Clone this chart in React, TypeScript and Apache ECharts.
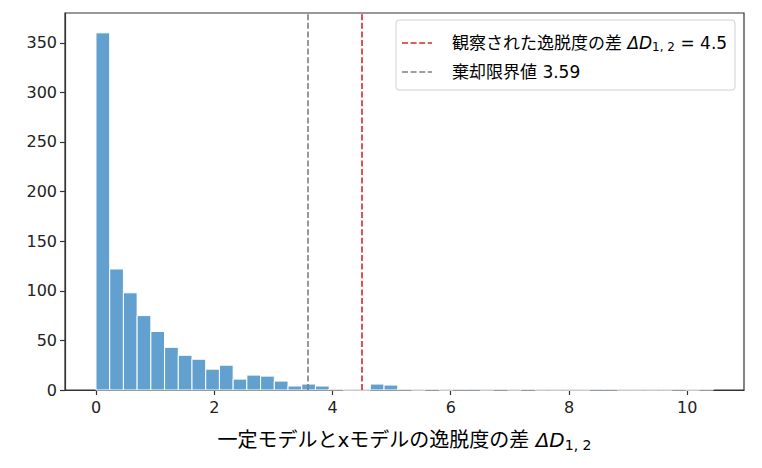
import React, { useEffect, useRef } from "react";
import * as echarts from "echarts";

const binStart = 0;
const binWidth = 0.232;
const counts = [
  360, 122, 98, 75, 59, 43, 35, 31, 21, 25, 11, 15, 14, 9, 4, 6, 4, 1, 0, 0, 6, 5,
  1, 0, 1, 0, 1, 1, 0, 1, 0, 1, 0, 0, 0, 0, 1, 1, 0, 0, 0, 0, 1, 0, 1,
];
const xTicks = [0, 2, 4, 6, 8, 10];
const yTicks = [0, 50, 100, 150, 200, 250, 300, 350];
const observedDiff = 4.5;
const criticalValue = 3.59;

const NUM_FONT = "DejaVu Sans, Noto Sans CJK JP, sans-serif";

export default function App() {
  const ref = useRef<HTMLDivElement>(null);
  useEffect(() => {
    if (!ref.current) return;
    const chart = echarts.init(ref.current, null, { renderer: "svg" });
    const data = counts.map((c, i) => [binStart + i * binWidth, c, binStart + (i + 1) * binWidth]);
    const dash = [6, 2.6];
    const left = 65;
    const right = 744;
    const rich = (size: number) => ({
      n: { fontSize: size, fontFamily: NUM_FONT, color: "#111" },
      i: { fontSize: size, fontFamily: "DejaVu Sans", fontStyle: "italic", color: "#111" },
      s: {
        fontSize: Math.round(size * 0.7),
        fontFamily: "DejaVu Sans",
        color: "#111",
        verticalAlign: "bottom",
        padding: [Math.round(size * 0.45), 0, 0, 0],
      },
    });
    chart.setOption({
      animation: false,
      grid: {
        left: left,
        right: 762 - right,
        top: 13,
        bottom: 78,
        show: true,
        borderColor: "#333",
        borderWidth: 1.2,
        backgroundColor: "transparent",
      },
      xAxis: {
        type: "value",
        min: -0.524,
        max: 10.96,
        splitLine: { show: false },
        axisLine: { show: true, onZero: false, lineStyle: { color: "#333", width: 1.2 } },
        axisTick: { show: true, length: 5, customValues: xTicks, lineStyle: { color: "#333", width: 1.2 } },
        axisLabel: {
          customValues: xTicks,
          fontSize: 16,
          fontFamily: NUM_FONT,
          color: "#222",
          margin: 9,
        },
      },
      yAxis: {
        type: "value",
        min: 0,
        max: 380,
        splitLine: { show: false },
        axisLine: { show: true, onZero: false, lineStyle: { color: "#333", width: 1.2 } },
        axisTick: { show: true, length: 5, customValues: yTicks, lineStyle: { color: "#333", width: 1.2 } },
        axisLabel: {
          customValues: yTicks,
          fontSize: 16,
          fontFamily: NUM_FONT,
          color: "#222",
          margin: 8,
        },
      },
      series: [
        {
          type: "custom",
          data: data,
          encode: { x: [0, 2], y: 1 },
          renderItem: (params: any, api: any) => {
            const p0 = api.coord([api.value(0), api.value(1)]);
            const p1 = api.coord([api.value(2), 0]);
            return {
              type: "rect",
              shape: { x: p0[0], y: p0[1], width: p1[0] - p0[0], height: p1[1] - p0[1] },
              style: { fill: "#62a1cf", stroke: "#ffffff", lineWidth: 1 },
            };
          },
          markLine: {
            symbol: "none",
            silent: true,
            label: { show: false },
            data: [
              { xAxis: criticalValue, lineStyle: { color: "#7f7f7f", width: 1.6, type: dash } },
              { xAxis: observedDiff, lineStyle: { color: "#d62728", width: 1.6, type: dash } },
            ],
          },
        },
      ],
      graphic: [
        {
          type: "rect",
          shape: { x: 396, y: 20, width: 339, height: 70, r: 3 },
          style: { fill: "rgba(255,255,255,0.85)", stroke: "#d0d0d0", lineWidth: 1 },
          z: 100,
        },
        {
          type: "line",
          shape: { x1: 402, y1: 43, x2: 432, y2: 43 },
          style: { stroke: "#d62728", lineWidth: 1.6, lineDash: dash },
          z: 101,
        },
        {
          type: "line",
          shape: { x1: 402, y1: 72, x2: 432, y2: 72 },
          style: { stroke: "#7f7f7f", lineWidth: 1.6, lineDash: dash },
          z: 101,
        },
        {
          type: "text",
          x: 452,
          y: 43,
          z: 101,
          style: {
            text: "{n|観察された逸脱度の差 }{i|ΔD}{s|1, 2}{n| = " + observedDiff + "}",
            rich: rich(17),
            verticalAlign: "middle",
            align: "left",
          },
        },
        {
          type: "text",
          x: 452,
          y: 72,
          z: 101,
          style: {
            text: "{n|棄却限界値 " + criticalValue + "}",
            rich: rich(17),
            verticalAlign: "middle",
            align: "left",
          },
        },
        {
          type: "text",
          x: (left + right) / 2,
          y: 440,
          style: {
            text: "{n|一定モデルとxモデルの逸脱度の差 }{i|ΔD}{s|1, 2}",
            rich: rich(20),
            verticalAlign: "middle",
            align: "center",
          },
        },
      ],
    });
    return () => chart.dispose();
  }, []);
  return <div ref={ref} style={{ width: 762, height: 468, position: "absolute", left: 0, top: 0 }} />;
}
